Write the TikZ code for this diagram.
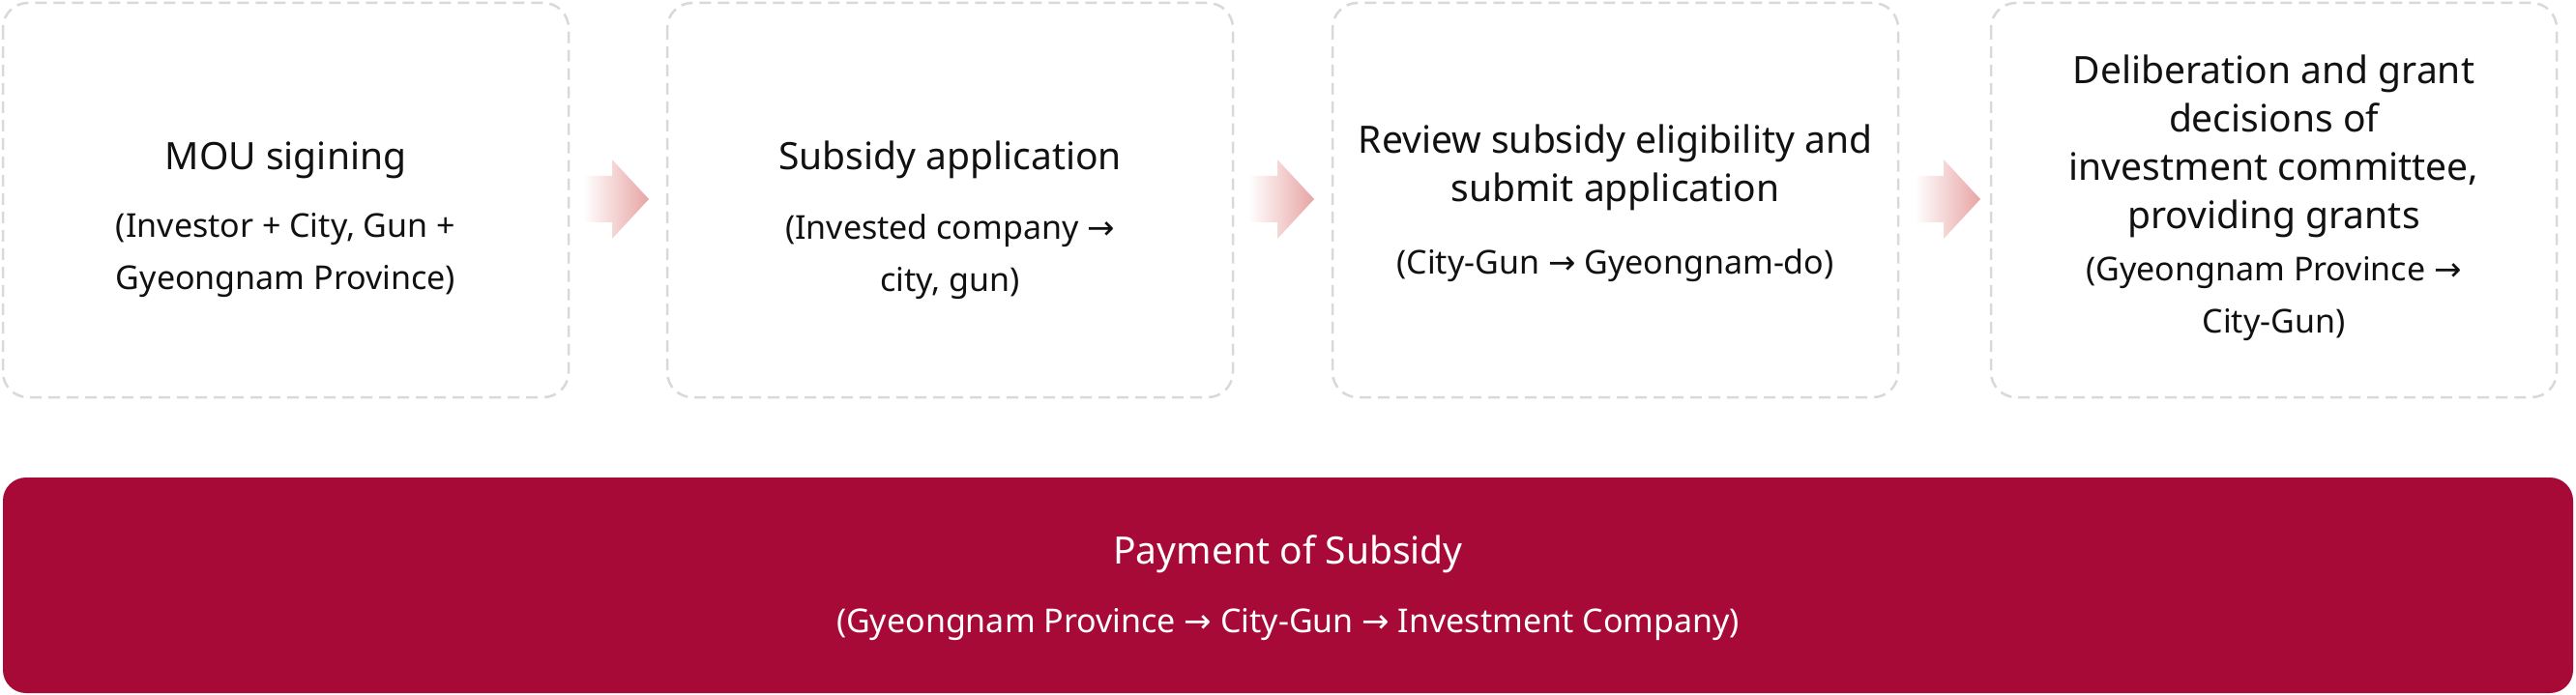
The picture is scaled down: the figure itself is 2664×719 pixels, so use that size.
\documentclass[tikz,border=0pt]{standalone}
\usepackage{fontspec}
\setmainfont{Noto Sans}
\newfontfamily\arrf{DejaVu Sans}
\newcommand{\ra}{{\arrf →}}
\definecolor{boxborder}{HTML}{D9D9D9}
\definecolor{redbox}{HTML}{A80A38}
\definecolor{txt}{HTML}{111111}
\definecolor{arrpink}{HTML}{E8A4A4}
\begin{document}
\begin{tikzpicture}[x=1pt,y=-1pt,
  stepbox/.style={draw=boxborder,line width=2.5pt,dash pattern=on 12pt off 7pt,rounded corners=26pt,fill=white},
  ttl/.style={font=\fontsize{39}{50}\selectfont\bfseries,text=txt,align=center,inner sep=0pt},
  sub/.style={font=\fontsize{34}{54}\selectfont,text=txt,align=center,inner sep=0pt}]
\useasboundingbox (0,0) rectangle (2664,719);
\fill[white] (0,0) rectangle (2664,719);
\foreach \n/\l in {b1/3,b2/690,b3/1378,b4/2059}{
  \draw[stepbox] (\l,3) rectangle ++(585,408);
  \coordinate (\n) at ({\l+292.5},0);
}
\fill[redbox,rounded corners=24pt] (3,494) rectangle (2661,717);
\node[ttl] (t1) at ([yshift=-166pt]b1) {MOU sigining};
\node[sub] (s1) at ([yshift=-264pt]b1) {(Investor + City, Gun +\\Gyeongnam Province)};
\node[ttl] (t2) at ([yshift=-165pt]b2) {Subsidy application};
\node[sub] (s2) at ([yshift=-266pt]b2) {(Invested company \ra\\city, gun)};
\node[ttl] (t3) at ([yshift=-173pt]b3) {Review subsidy eligibility and\\submit application};
\node[sub] (s3) at ([yshift=-275pt]b3) {(City-Gun \ra\ Gyeongnam-do)};
\node[ttl] (t4) at ([yshift=-151pt]b4) {Deliberation and grant\\decisions of\\investment committee,\\providing grants};
\node[sub] (s4) at ([yshift=-309pt]b4) {(Gyeongnam Province \ra\\City-Gun)};
\node[ttl,text=white] (t5) at (1332,573) {Payment of Subsidy};
\node[sub,text=white] (s5) at (1332,646) {(Gyeongnam Province \ra\ City-Gun \ra\ Investment Company)};
\foreach \x in {603,1291,1980}{
  \shade[left color=white,right color=arrpink]
    (\x,182) -- ({\x+30},182) -- ({\x+30},165) -- ({\x+68},206) -- ({\x+30},247) -- ({\x+30},230) -- (\x,230) -- cycle;
}
\end{tikzpicture}
\end{document}
